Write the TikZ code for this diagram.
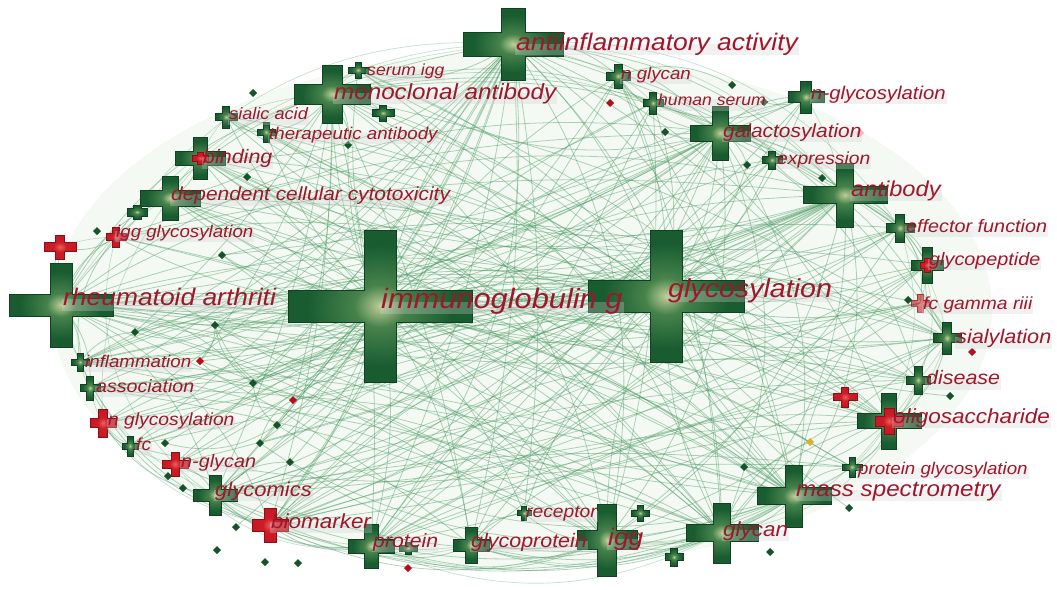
\documentclass[tikz,border=0pt]{standalone}
\usepackage{fontspec}
\newfontfamily\kwfont{Liberation Sans}[FakeStretch=1.1]
\usetikzlibrary{calc}

\definecolor{kwred}{RGB}{160,22,42}
\definecolor{hubdark}{RGB}{24,92,48}
\definecolor{hubmid}{RGB}{70,130,75}
\definecolor{hublight}{RGB}{190,205,150}
\definecolor{edgegreen}{RGB}{70,150,95}
\definecolor{haze}{RGB}{244,250,243}
\definecolor{burstdark}{RGB}{180,15,28}
\definecolor{burstmid}{RGB}{205,30,40}
\definecolor{burstlight}{RGB}{235,95,95}

\pgfdeclareradialshading{greenburst}{\pgfpoint{0bp}{0bp}}{color(0bp)=(hublight); color(7bp)=(hubmid); color(20bp)=(hubdark); color(50bp)=(hubdark)}
\pgfdeclareradialshading{redburst}{\pgfpoint{0bp}{0bp}}{color(0bp)=(burstlight); color(10bp)=(burstmid); color(50bp)=(burstdark)}
\pgfdeclareradialshading{hazefill}{\pgfpoint{0bp}{0bp}}{color(0bp)=(haze); color(25bp)=(haze); color(50bp)=(white)}

\tikzset{
  edge/.style={draw=edgegreen, draw opacity=.42, line width=.8pt},
  rim/.style={draw=edgegreen, draw opacity=.3, line width=.7pt},
  greencross/.style={shading=greenburst, draw=hubdark!70!black, line width=.4pt},
  redcross/.style={shading=redburst, draw=burstdark!80!black, line width=.3pt},
  dotmark/.style={fill=hubdark!90!black, draw=none},
  reddot/.style={fill=burstdark, draw=none},
  kwlabel/.style={anchor=west, text=kwred, fill=gray!35, fill opacity=.3, text opacity=1,
    inner sep=1pt, text height=.55em, text depth=.4em, yshift=-6.5pt},
}
\newcommand\kwf[1]{\kwfont\itshape\fontsize{#1}{#1}\selectfont}

% plus-shaped burst: #1 centre, #2 half width, #3 half height, #4 half bar thickness, #5 style
\newcommand\kwcross[5]{%
  \shade[#5] ([shift={(-#4,-#3)}]#1) -- ([shift={(#4,-#3)}]#1) -- ([shift={(#4,-#4)}]#1)
    -- ([shift={(#2,-#4)}]#1) -- ([shift={(#2,#4)}]#1) -- ([shift={(#4,#4)}]#1)
    -- ([shift={(#4,#3)}]#1) -- ([shift={(-#4,#3)}]#1) -- ([shift={(-#4,#4)}]#1)
    -- ([shift={(-#2,#4)}]#1) -- ([shift={(-#2,-#4)}]#1) -- ([shift={(-#4,-#4)}]#1) -- cycle;}
% small diamond marker
\newcommand\kwdot[3]{%
  \fill[#3] ([shift={(0,-#2)}]#1) -- ([shift={(#2,0)}]#1) -- ([shift={(0,#2)}]#1) -- ([shift={(-#2,0)}]#1) -- cycle;}

\begin{document}
\begin{tikzpicture}[x=1pt,y=-1pt]
\useasboundingbox (0,0) rectangle (1057,589);
\fill[white] (0,0) rectangle (1057,589);
\shade[shading=hazefill] (522,310) ellipse [x radius=470, y radius=258];

% keyword positions
\coordinate (igG) at (380,306);
\coordinate (gly) at (666,296);
\coordinate (ra) at (61,305);
\coordinate (anti) at (513,44);
\coordinate (mab) at (332,94);
\coordinate (serum) at (358,70);
\coordinate (sia) at (226,117);
\coordinate (ther) at (266,132);
\coordinate (bind) at (200,158);
\coordinate (adcc) at (170,198);
\coordinate (iggg) at (116,237);
\coordinate (redA) at (60,247);
\coordinate (inf) at (80,362);
\coordinate (assoc) at (90,388);
\coordinate (ngsl) at (103,423);
\coordinate (fc) at (130,446);
\coordinate (ngcl) at (175,464);
\coordinate (gmx) at (215,495);
\coordinate (biom) at (270,525);
\coordinate (prot) at (371,546);
\coordinate (gprot) at (471,545);
\coordinate (rec) at (524,513);
\coordinate (igg) at (607,540);
\coordinate (glycan) at (722,533);
\coordinate (ms) at (794,496);
\coordinate (pgly) at (852,467);
\coordinate (oligo) at (889,421);
\coordinate (redB) at (845,397);
\coordinate (dis) at (918,380);
\coordinate (sial) at (947,338);
\coordinate (fcg) at (920,303);
\coordinate (gpep) at (927,265);
\coordinate (eff) at (900,228);
\coordinate (ab) at (845,195);
\coordinate (expr) at (772,160);
\coordinate (gal) at (720,133);
\coordinate (ngsr) at (806,97);
\coordinate (hser) at (653,103);
\coordinate (ngcr) at (618,76);
% unlabelled keywords
\coordinate (p1) at (253,93);
\coordinate (p2) at (383,113);
\coordinate (p3) at (348,145);
\coordinate (p4) at (247,177);
\coordinate (p5) at (222,255);
\coordinate (p6) at (97,231);
\coordinate (p7) at (137,212);
\coordinate (p8) at (135,332);
\coordinate (p9) at (215,325);
\coordinate (p10) at (253,383);
\coordinate (p11) at (293,400);
\coordinate (p12) at (277,425);
\coordinate (p13) at (260,443);
\coordinate (p14) at (165,443);
\coordinate (p15) at (168,476);
\coordinate (p16) at (183,488);
\coordinate (p17) at (290,462);
\coordinate (p18) at (217,550);
\coordinate (p19) at (265,562);
\coordinate (p20) at (298,563);
\coordinate (p21) at (236,527);
\coordinate (p22) at (744,467);
\coordinate (p23) at (810,442);
\coordinate (p24) at (849,508);
\coordinate (p25) at (770,552);
\coordinate (p26) at (950,396);
\coordinate (p27) at (908,300);
\coordinate (p28) at (732,85);
\coordinate (p29) at (665,132);
\coordinate (p30) at (764,102);
\coordinate (p31) at (747,165);
\coordinate (p32) at (822,178);
\coordinate (p33) at (610,103);
\coordinate (p34) at (972,352);
\coordinate (p35) at (408,548);
\coordinate (p36) at (408,568);
\coordinate (p37) at (640,513);
\coordinate (p38) at (674,557);
\coordinate (p39) at (860,133);
\coordinate (p40) at (200,361);

% co-occurrence links
\foreach \b in {anti,mab,serum,sia,ther,bind,adcc,iggg,ra,inf,assoc,ngsl,fc,ngcl,gmx,biom,prot,gprot,rec,igg,glycan,ms,pgly,oligo,dis,sial,fcg,gpep,eff,ab,expr,gal,ngsr,hser,ngcr,gly,p3,p9,p10,p11,p12,p13,p17,p22,p23}
  {\draw[edge] (igG) to[bend left=12] (\b);}
\foreach \b in {anti,mab,serum,sia,ther,bind,adcc,iggg,ra,inf,assoc,ngsl,fc,ngcl,gmx,biom,prot,gprot,rec,igg,glycan,ms,pgly,oligo,dis,sial,fcg,gpep,eff,ab,expr,gal,ngsr,hser,ngcr,p8,p9,p10,p14,p21,p24,p26,p31}
  {\draw[edge] (gly) to[bend right=14] (\b);}
\foreach \a/\b in {ra/anti,ra/mab,ra/gal,ra/ab,ra/gmx,ra/biom,ra/inf,ra/assoc,ra/iggg,ra/adcc,ra/ms,ra/glycan,ra/sial,ra/igg,
  anti/ab,anti/gal,anti/ms,anti/glycan,anti/igg,anti/sial,anti/bind,anti/adcc,anti/oligo,anti/prot,
  mab/ab,mab/adcc,mab/gal,mab/ther,mab/eff,mab/igg,mab/glycan,
  gal/ab,gal/ms,gal/glycan,gal/igg,gal/sial,gal/biom,gal/dis,gal/assoc,
  ab/eff,ab/gpep,ab/ms,ab/glycan,ab/igg,ab/adcc,ab/bind,
  ms/glycan,ms/oligo,ms/gpep,ms/pgly,ms/gprot,ms/prot,ms/igg,ms/gmx,ms/biom,ms/ngcl,
  glycan/igg,glycan/oligo,glycan/gprot,glycan/gmx,igg/gprot,igg/prot,igg/rec,igg/biom}
  {\draw[edge] (\a) to[bend left=22] (\b);}
\foreach \a/\b in {oligo/sial,oligo/dis,oligo/gprot,sial/dis,sial/fcg,sial/inf,dis/biom,dis/inf,gmx/biom,gmx/ngcl,
  gmx/prot,biom/prot,prot/gprot,adcc/bind,adcc/eff,adcc/fcg,bind/fcg,bind/eff,iggg/inf,ngsl/fc,fc/fcg,
  ngcr/hser,hser/ngsr,ngsr/gal,expr/ab,expr/gal,sia/sial,sia/ther,ther/ab,serum/mab,serum/anti,serum/gal,
  ngcr/anti,ngcr/gal,redA/ra,redA/iggg,ngsl/gmx,assoc/biom,inf/biom,pgly/oligo,gpep/eff,gpep/sial,fcg/eff,
  rec/gprot,p9/p10,p9/p11,p10/p12,p11/p13,p8/p9,p9/ra,p10/ra,p11/gal,p12/ms,p13/glycan,p40/p9,p40/p10,
  p8/inf,p14/p12,p17/gmx,p17/ms,p22/ms,p22/oligo,p23/glycan,p31/gal,p28/ngcr,p29/gal,p30/ngsr,p3/mab,p2/mab}
  {\draw[edge] (\a) to[bend right=24] (\b);}
\foreach \a/\b in {bind/ms,bind/glycan,bind/oligo,adcc/ms,adcc/glycan,adcc/oligo,adcc/sial,iggg/ms,iggg/gal,iggg/ab,
  sia/glycan,sia/ms,ther/glycan,ther/oligo,ther/ms,serum/ms,serum/oligo,mab/oligo,mab/sial,mab/ms,
  anti/gmx,anti/biom,anti/ngsl,anti/assoc,anti/inf,anti/dis,anti/eff,ngcr/glycan,ngcr/ms,ngcr/biom,ngcr/gmx,
  hser/igg,hser/prot,hser/biom,hser/ra,ngsr/ra,ngsr/biom,ngsr/prot,gal/prot,gal/gprot,gal/ngsl,gal/inf,gal/fc,
  expr/ra,expr/biom,expr/gmx,ab/gmx,ab/biom,ab/inf,ab/assoc,ab/prot,eff/ra,eff/gmx,eff/biom,eff/igg,
  gpep/ra,gpep/gmx,gpep/prot,gpep/biom,fcg/ra,fcg/gmx,sial/ra,sial/gmx,sial/prot,sial/biom,sial/igg}
  {\draw[edge] (\a) to[bend left=9] (\b);}
\foreach \a/\b in {dis/ra,dis/gmx,dis/prot,oligo/ra,oligo/biom,oligo/prot,pgly/ra,pgly/gmx,pgly/biom,ms/inf,ms/assoc,
  ms/iggg,glycan/ra,glycan/inf,glycan/assoc,igg/ra,igg/inf,igg/assoc,igg/adcc,igg/bind,rec/ra,rec/anti,
  gprot/anti,gprot/ra,gprot/mab,prot/anti,prot/mab,prot/ab,biom/anti,biom/mab,gmx/anti,gmx/mab,ngcl/anti,
  ngcl/ab,fc/ab,fc/anti,ngsl/ab,assoc/ab,inf/ab,inf/gal,p9/anti,p9/gal,p9/ab,p9/ms,p9/glycan,p10/anti,p10/gal,
  p10/ab,p40/mab,p40/ab,p40/ms,p8/mab,p8/gal,p11/ab,p11/mab,p12/anti,p13/ab,p5/ms,p5/glycan,p5/gal,p4/oligo}
  {\draw[edge] (\a) to[bend right=8] (\b);}

% outer rim links between neighbouring keywords
\draw[rim] (anti) to[bend left=8] (ngcr) to[bend left=8] (hser) to[bend left=8] (gal) to[bend left=8] (ngsr)
  to[bend left=8] (ab) to[bend left=8] (eff) to[bend left=8] (gpep) to[bend left=8] (fcg) to[bend left=8] (sial)
  to[bend left=8] (dis) to[bend left=8] (oligo) to[bend left=8] (pgly) to[bend left=8] (ms) to[bend left=8] (glycan)
  to[bend left=8] (igg) to[bend left=8] (gprot) to[bend left=8] (prot) to[bend left=8] (biom) to[bend left=8] (gmx)
  to[bend left=8] (ngcl) to[bend left=8] (fc) to[bend left=8] (ngsl) to[bend left=8] (assoc) to[bend left=8] (inf)
  to[bend left=8] (ra) to[bend left=8] (redA) to[bend left=8] (iggg) to[bend left=8] (adcc) to[bend left=8] (bind)
  to[bend left=8] (sia) to[bend left=8] (mab) to[bend left=8] (serum) to[bend left=8] (anti);
\draw[rim] (ra) to[bend left=25] (anti) to[bend left=25] (ab) to[bend left=25] (sial) to[bend left=25] (ms)
  to[bend left=20] (igg) to[bend left=20] (prot) to[bend left=25] (gmx) to[bend left=25] (ra);
\draw[rim] (adcc) to[bend left=20] (mab) to[bend left=20] (gal) to[bend left=20] (eff) to[bend left=20] (oligo)
  to[bend left=20] (glycan) to[bend left=20] (gprot) to[bend left=20] (biom) to[bend left=20] (ngsl) to[bend left=20] (adcc);
\draw[rim] (iggg) to[bend left=30] (anti) to[bend left=30] (eff) to[bend left=30] (dis) to[bend left=30] (glycan)
  to[bend left=25] (prot) to[bend left=30] (ngcl) to[bend left=30] (iggg);

% unlabelled keyword markers
\foreach \p in {p1,p3,p4,p5,p6,p8,p9,p10,p12,p13,p14,p15,p16,p17,p18,p19,p20,p21,p22,p24,p25,p26,p27,p28,p29,p30,p31,p32}
  {\kwdot{\p}{4}{dotmark}}
\foreach \p in {p11,p33,p34,p36,p40}
  {\kwdot{\p}{4}{reddot}}
\kwdot{p23}{4}{fill=brown!60!yellow}
\kwdot{p39}{4}{fill=red!30}
\kwcross{p2}{11}{8}{3.5}{greencross}
\kwcross{p7}{10}{7}{4}{greencross}
\kwcross{p35}{9}{6}{3}{greencross}
\kwcross{p37}{9}{8}{3}{greencross}
\kwcross{p38}{9}{9}{3.5}{greencross}

% keyword bursts
\kwcross{igG}{92}{76}{16}{greencross}
\kwcross{gly}{78}{66}{16}{greencross}
\kwcross{ra}{52}{42}{11}{greencross}
\kwcross{anti}{50}{36}{12}{greencross}
\kwcross{mab}{38}{29}{10}{greencross}
\kwcross{serum}{10}{8}{3}{greencross}
\kwcross{sia}{11}{11}{3.5}{greencross}
\kwcross{ther}{9}{10}{3}{greencross}
\kwcross{bind}{25}{21}{7}{greencross}
\kwcross{adcc}{30}{22}{8}{greencross}
\kwcross{iggg}{10}{10}{3.5}{redcross}
\kwcross{redA}{16}{12}{4.5}{redcross}
\kwcross{inf}{9}{9}{3}{greencross}
\kwcross{assoc}{10}{12}{3.5}{greencross}
\kwcross{ngsl}{13}{14}{4.5}{redcross}
\kwcross{fc}{8}{10}{3}{greencross}
\kwcross{ngcl}{13}{12}{4}{redcross}
\kwcross{gmx}{22}{20}{6}{greencross}
\kwcross{biom}{18}{17}{6}{redcross}
\kwcross{prot}{23}{22}{7}{greencross}
\kwcross{gprot}{18}{18}{6}{greencross}
\kwcross{rec}{7}{7}{2.5}{greencross}
\kwcross{igg}{30}{36}{9.5}{greencross}
\kwcross{glycan}{36}{30}{8.5}{greencross}
\kwcross{ms}{37}{31}{8.5}{greencross}
\kwcross{pgly}{10}{10}{3}{greencross}
\kwcross{oligo}{32}{28}{7.5}{greencross}
\kwcross{oligo}{14}{13}{5}{redcross}
\kwcross{redB}{12}{10}{3.5}{redcross}
\kwcross{dis}{12}{14}{4}{greencross}
\kwcross{sial}{14}{16}{4.5}{greencross}
\kwcross{fcg}{9}{9}{3}{redcross, opacity=.6}
\kwcross{gpep}{16}{18}{5}{greencross}
\kwcross{gpep}{7}{7}{3}{redcross}
\kwcross{eff}{14}{14}{4.5}{greencross}
\kwcross{ab}{42}{32}{8.5}{greencross}
\kwcross{expr}{10}{9}{3.5}{greencross}
\kwcross{gal}{30}{27}{8}{greencross}
\kwcross{ngsr}{18}{16}{5.5}{greencross}
\kwcross{hser}{10}{11}{3.5}{greencross}
\kwcross{ngcr}{12}{12}{4}{greencross}
\kwcross{bind}{8}{6}{3}{redcross, xshift=-26pt}

% keyword labels
\node[kwlabel, font=\kwf{24}] (anti-l) at (515,43) {antiinflammatory activity};
\node[kwlabel, font=\kwf{22}] (mab-l) at (333,92) {monoclonal antibody};
\node[kwlabel, font=\kwf{16}] (serum-l) at (366,68.5) {serum igg};
\node[kwlabel, font=\kwf{16.5}] (sia-l) at (228,112.5) {sialic acid};
\node[kwlabel, font=\kwf{17}] (ther-l) at (268,132) {therapeutic antibody};
\node[kwlabel, font=\kwf{19.5}] (bind-l) at (202,156.5) {binding};
\node[kwlabel, font=\kwf{19}] (adcc-l) at (170,193.5) {dependent cellular cytotoxicity};
\node[kwlabel, font=\kwf{17}] (iggg-l) at (115,230) {igg glycosylation};
\node[kwlabel, font=\kwf{24}] (ra-l) at (62,298.5) {rheumatoid arthriti};
\node[kwlabel, font=\kwf{28}] (igG-l) at (380,301.5) {immunoglobulin g};
\node[kwlabel, font=\kwf{26}] (gly-l) at (667,290) {glycosylation};
\node[kwlabel, font=\kwf{21.5}] (ab-l) at (850,189) {antibody};
\node[kwlabel, font=\kwf{19}] (gal-l) at (722,130) {galactosylation};
\node[kwlabel, font=\kwf{17.5}] (expr-l) at (776,157) {expression};
\node[kwlabel, font=\kwf{18.5}] (ngsr-l) at (810,92) {n-glycosylation};
\node[kwlabel, font=\kwf{16}] (hser-l) at (657,98.5) {human serum};
\node[kwlabel, font=\kwf{17}] (ngcr-l) at (620,72) {n glycan};
\node[kwlabel, font=\kwf{18}] (eff-l) at (905,225) {effector function};
\node[kwlabel, font=\kwf{18}] (gpep-l) at (928,258) {glycopeptide};
\node[kwlabel, font=\kwf{17.5}] (fcg-l) at (922,302) {fc gamma riii};
\node[kwlabel, font=\kwf{19.7}] (sial-l) at (955,336.5) {sialylation};
\node[kwlabel, font=\kwf{19.5}] (dis-l) at (925,377.5) {disease};
\node[kwlabel, font=\kwf{20.5}] (oligo-l) at (892,416) {oligosaccharide};
\node[kwlabel, font=\kwf{17}] (pgly-l) at (857,467) {protein glycosylation};
\node[kwlabel, font=\kwf{22}] (ms-l) at (795,489) {mass spectrometry};
\node[kwlabel, font=\kwf{20.4}] (glycan-l) at (722,529) {glycan};
\node[kwlabel, font=\kwf{24}] (igg-l) at (607,538) {igg};
\node[kwlabel, font=\kwf{17.5}] (rec-l) at (525,510) {receptor};
\node[kwlabel, font=\kwf{19.5}] (gprot-l) at (470,540) {glycoprotein};
\node[kwlabel, font=\kwf{19.3}] (prot-l) at (372,540) {protein};
\node[kwlabel, font=\kwf{20.4}] (biom-l) at (270,521) {biomarker};
\node[kwlabel, font=\kwf{20}] (gmx-l) at (214,489) {glycomics};
\node[kwlabel, font=\kwf{18}] (ngcl-l) at (180,460) {n-glycan};
\node[kwlabel, font=\kwf{17.5}] (fc-l) at (135,443) {fc};
\node[kwlabel, font=\kwf{17.5}] (ngsl-l) at (107,418) {n glycosylation};
\node[kwlabel, font=\kwf{17.8}] (assoc-l) at (95,385) {association};
\node[kwlabel, font=\kwf{17}] (inf-l) at (84,360) {inflammation};
\end{tikzpicture}
\end{document}
